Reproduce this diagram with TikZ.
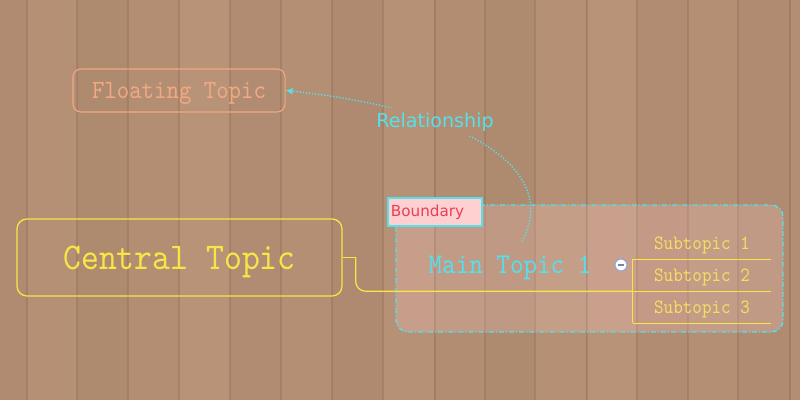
\documentclass[tikz,border=0pt]{standalone}
\usepackage{fontspec}
\newfontfamily\topicfont[FakeStretch=0.9]{lmmono10-regular.otf}
\newfontfamily\labelfont{DejaVu Sans}
\usetikzlibrary{arrows.meta}

\definecolor{plank}{RGB}{170,134,108}
\definecolor{plankhi}{RGB}{190,152,124}
\definecolor{plankedge}{RGB}{140,104,82}
\definecolor{topicyellow}{RGB}{250,228,70}
\definecolor{subyellow}{RGB}{246,222,96}
\definecolor{floatsalmon}{RGB}{242,168,130}
\definecolor{relcyan}{RGB}{84,224,236}
\definecolor{boundpink}{RGB}{255,208,208}
\definecolor{boundred}{RGB}{232,62,88}
\definecolor{foldblue}{RGB}{150,165,215}

\begin{document}
\begin{tikzpicture}[x=0.025cm, y=-0.025cm,
    central/.style={draw=topicyellow, line width=0.9pt, rounded corners=0.25cm,
      minimum width=8.125cm, minimum height=1.925cm, text=topicyellow, text depth=0pt,
      font=\topicfont\fontsize{26.9}{30}\selectfont},
    floating/.style={draw=floatsalmon, line width=0.75pt, rounded corners=0.2cm,
      minimum width=5.3cm, minimum height=1.075cm, text=floatsalmon, text depth=0pt,
      font=\topicfont\fontsize{18.7}{22}\selectfont},
    maintopic/.style={minimum height=1.15cm, text=relcyan, text depth=0pt,
      font=\topicfont\fontsize{20.4}{24}\selectfont},
    subtopic/.style={minimum width=3.45cm, minimum height=0.8cm, inner sep=0pt,
      text=subyellow, text depth=0pt, font=\topicfont\fontsize{14.4}{17}\selectfont},
    branch/.style={draw=topicyellow, line width=0.9pt},
    rel/.style={draw=relcyan, line width=1pt, dash pattern=on 0.9pt off 1.3pt,
      -{Latex[length=5pt,width=5pt]}},
    boundline/.style={draw=relcyan, line width=1pt, rounded corners=0.3cm,
      dash pattern=on 3.6pt off 1.4pt on 0.8pt off 1.4pt}]
    \useasboundingbox (0,0) rectangle (800,400);
    \clip (0,0) rectangle (800,400);
    % wooden background
    \fill[plank] (0,0) rectangle (800,400);
    \foreach \x/\s in {-24/30,27/55,77/20,128/45,179/70,230/35,281/50,332/25,383/60,
                       435/40,485/20,535/55,587/75,637/35,688/50,738/30,790/45}
      \fill[plankhi!\s!plank] (\x,0) rectangle ++(51,400);
    \foreach \x in {27,77,128,179,230,281,332,383,435,485,535,587,637,688,738,790}
      \draw[plankedge, line width=0.8pt, opacity=0.35] (\x,0) -- (\x,400);

    % boundary
    \path[boundline, fill=boundpink, fill opacity=0.22] (396,205) rectangle (783,332);
    \node[draw=relcyan, line width=1.4pt, fill=boundpink, anchor=north west,
          text width=2.2cm, minimum height=0.7cm, inner xsep=0.075cm, align=left,
          text=boundred, font=\labelfont\fontsize{10.8}{13}\selectfont]
          (boundary) at (387,197) {Boundary};

    % topics
    \node[central] (central) at (179.5,257.5) {Central Topic};
    \node[floating] (floating) at (179,90.5) {Floating Topic};
    \node[maintopic] (main) at (510,265) {Main Topic 1};
    \node[subtopic] (sub1) at (702,243) {Subtopic 1};
    \node[subtopic] (sub2) at (702,275) {Subtopic 2};
    \node[subtopic] (sub3) at (702,307) {Subtopic 3};

    % branches
    \draw[branch] (central.east) -- ++(13,0) coordinate (bend);
    \draw[branch, rounded corners=0.25cm] (bend) |- (sub2.south west);
    \draw[branch] (sub1.south west) -- (sub3.south west);
    \foreach \s in {sub1,sub2,sub3}
      \draw[branch] (\s.south west) -- (\s.south east);

    % collapse button
    \node[circle, draw=foldblue, line width=0.8pt, fill=white, minimum size=0.3cm,
          inner sep=0pt] (fold) at (621,265) {};
    \draw[foldblue!80!black, line width=0.9pt] ([xshift=-0.08cm]fold.center) -- ([xshift=0.08cm]fold.center);

    % relationship
    \node[text=relcyan, font=\labelfont\fontsize{13.6}{16}\selectfont] (rellabel) at (435,122) {Relationship};
    \begin{scope}[even odd rule]
      \clip (0,0) rectangle (800,400) (rellabel.south west) rectangle (rellabel.north east);
      \draw[rel] ([xshift=0.3cm]main.north) .. controls (560,170) and (470,110) .. (floating.east);
    \end{scope}
\end{tikzpicture}
\end{document}
